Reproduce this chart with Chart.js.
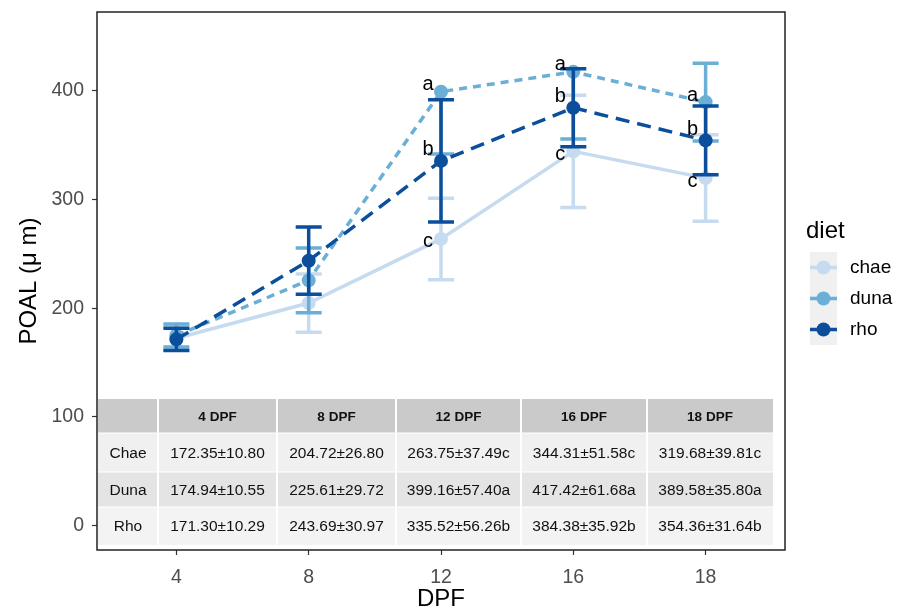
<!DOCTYPE html>
<html>
<head>
<meta charset="utf-8">
<script src="https://cdn.jsdelivr.net/npm/chart.js@4.4.0/dist/chart.umd.min.js"></script>
<style>
  html, body { margin: 0; padding: 0; background: #fff; }
  canvas { display: block; }
</style>
</head>
<body>
<canvas id="chart" width="898" height="613"></canvas>
<script>
// Data (means, SD and letters also shown in the inset table)
const days = ['4', '8', '12', '16', '18'];
const diets = ['chae', 'duna', 'rho'];
const rowNames = ['Chae', 'Duna', 'Rho'];

const chaeMean = [172.35, 204.72, 263.75, 344.31, 319.68];
const chaeSd = [10.80, 26.80, 37.49, 51.58, 39.81];
const dunaMean = [174.94, 225.61, 399.16, 417.42, 389.58];
const dunaSd = [10.55, 29.72, 57.40, 61.68, 35.80];
const rhoMean = [171.30, 243.69, 335.52, 384.38, 354.36];
const rhoSd = [10.29, 30.97, 56.26, 35.92, 31.64];

const chaeLetters = ['', '', 'c', 'c', 'c'];
const dunaLetters = ['', '', 'a', 'a', 'a'];
const rhoLetters = ['', '', 'b', 'b', 'b'];

const yTicks = [0, 100, 200, 300, 400];
const yLimit = 450; // error bar halves above this are dropped, as in the figure

Chart.defaults.font.family = '"Liberation Sans", Arial, sans-serif';

const series = [
    { mean: chaeMean, sd: chaeSd, letters: chaeLetters, color: '#c6dbef', dash: [], nudge: 3 },
    { mean: dunaMean, sd: dunaSd, letters: dunaLetters, color: '#6baed6', dash: [8, 6], nudge: -7 },
    { mean: rhoMean, sd: rhoSd, letters: rhoLetters, color: '#0b4f9c', dash: [14, 8], nudge: -11 }
];

const datasets = series.map((s, k) => ({
    label: diets[k],
    data: s.mean.map((v, i) => ({ x: i, y: v })),
    borderColor: s.color,
    backgroundColor: s.color,
    pointBackgroundColor: s.color,
    pointBorderWidth: 0,
    pointRadius: 7,
    borderWidth: 3.5,
    borderDash: s.dash,
    tension: 0,
    order: 3 - k,   // chae drawn first, rho last (on top)
    sd: s.sd,
    letters: s.letters,
    nudge: s.nudge
}));

const overlay = {
    id: 'overlay',
    // error bars for each group, drawn just before that group's line and points
    beforeDatasetDraw(chart, args) {
        const ds = chart.data.datasets[args.index];
        const ctx = chart.ctx;
        const xs = chart.scales.x, ys = chart.scales.y;
        ctx.save();
        ctx.strokeStyle = ds.borderColor;
        ctx.lineWidth = 3.5;
        ctx.setLineDash([]);
        ds.data.forEach((p, i) => {
            const px = xs.getPixelForValue(p.x);
            const lo = p.y - ds.sd[i];
            const hi = p.y + ds.sd[i];
            const yLo = ys.getPixelForValue(lo);
            const yHi = ys.getPixelForValue(hi > yLimit ? p.y : hi);
            ctx.beginPath();
            ctx.moveTo(px, yLo);
            ctx.lineTo(px, yHi);
            ctx.moveTo(px - 13, yLo);
            ctx.lineTo(px + 13, yLo);
            if (hi <= yLimit) {
                ctx.moveTo(px - 13, yHi);
                ctx.lineTo(px + 13, yHi);
            }
            ctx.stroke();
        });
        ctx.restore();
    },
    afterDatasetsDraw(chart) {
        const ctx = chart.ctx;
        const xs = chart.scales.x, ys = chart.scales.y;
        ctx.save();

        // significance letters
        ctx.fillStyle = '#000';
        ctx.font = '20px "Liberation Sans", Arial, sans-serif';
        ctx.textAlign = 'center';
        ctx.textBaseline = 'middle';
        chart.data.datasets.forEach(ds => {
            ds.data.forEach((p, i) => {
                if (!ds.letters[i]) return;
                ctx.fillText(ds.letters[i], xs.getPixelForValue(p.x) - 13, ys.getPixelForValue(p.y) + ds.nudge);
            });
        });

        // inset table
        const cols = [98, 158, 277, 396, 521, 647, 773];
        const rows = [399, 433, 472, 507, 545];
        const fills = ['#cacaca', '#f0f0f0', '#e4e4e4', '#f3f3f3'];
        for (let r = 0; r < 4; r++) {
            ctx.fillStyle = fills[r];
            ctx.fillRect(cols[0], rows[r], cols[6] - cols[0], rows[r + 1] - rows[r]);
        }
        ctx.strokeStyle = '#ffffff';
        ctx.lineWidth = 2;
        ctx.beginPath();
        for (let c = 1; c < 6; c++) {
            ctx.moveTo(cols[c], rows[0]);
            ctx.lineTo(cols[c], rows[4]);
        }
        ctx.stroke();
        ctx.lineWidth = 1.2;
        ctx.beginPath();
        for (let r = 1; r < 4; r++) {
            ctx.moveTo(cols[0], rows[r]);
            ctx.lineTo(cols[6], rows[r]);
        }
        ctx.stroke();

        ctx.fillStyle = '#111';
        ctx.font = 'bold 13.5px "Liberation Sans", Arial, sans-serif';
        days.forEach((d, i) => {
            ctx.fillText(d + ' DPF', (cols[i + 1] + cols[i + 2]) / 2, (rows[0] + rows[1]) / 2 + 1);
        });
        ctx.font = '15.5px "Liberation Sans", Arial, sans-serif';
        series.forEach((s, k) => {
            const cy = (rows[k + 1] + rows[k + 2]) / 2 + 1;
            ctx.fillText(rowNames[k], (cols[0] + cols[1]) / 2, cy);
            s.mean.forEach((m, i) => {
                const txt = m.toFixed(2) + '\u00b1' + s.sd[i].toFixed(2) + s.letters[i];
                ctx.fillText(txt, (cols[i + 1] + cols[i + 2]) / 2, cy);
            });
        });
        ctx.restore();
    },
    afterDraw(chart) {
        const ctx = chart.ctx;
        const a = chart.chartArea;
        ctx.save();
        // panel border
        ctx.strokeStyle = '#222';
        ctx.lineWidth = 1.5;
        ctx.strokeRect(a.left, a.top, a.right - a.left, a.bottom - a.top);

        // legend
        ctx.fillStyle = '#000';
        ctx.font = '24px "Liberation Sans", Arial, sans-serif';
        ctx.textAlign = 'left';
        ctx.textBaseline = 'middle';
        ctx.fillText('diet', 806, 231);
        series.forEach((s, k) => {
            const top = 252 + k * 31;
            const cy = top + 15.5;
            ctx.fillStyle = '#f0f0f0';
            ctx.fillRect(810, top, 27, 31);
            ctx.strokeStyle = s.color;
            ctx.lineWidth = 3.5;
            ctx.beginPath();
            ctx.moveTo(810, cy);
            ctx.lineTo(837, cy);
            ctx.stroke();
            ctx.fillStyle = s.color;
            ctx.beginPath();
            ctx.arc(823.5, cy, 7, 0, Math.PI * 2);
            ctx.fill();
            ctx.fillStyle = '#000';
            ctx.font = '19px "Liberation Sans", Arial, sans-serif';
            ctx.fillText(diets[k], 850, cy);
        });
        ctx.restore();
    }
};

new Chart(document.getElementById('chart').getContext('2d'), {
    type: 'line',
    data: { datasets },
    plugins: [overlay],
    options: {
        responsive: false,
        animation: false,
        events: [],
        layout: { padding: { left: 0, right: 113, top: 12, bottom: 0 } },
        scales: {
            x: {
                type: 'linear',
                min: -0.6,
                max: 4.6,
                afterBuildTicks: scale => { scale.ticks = days.map((d, i) => ({ value: i })); },
                afterFit: scale => {
                    scale.height = 63;
                    scale.paddingLeft = 0;
                    scale.paddingRight = 0;
                },
                grid: { display: true, drawOnChartArea: false, drawTicks: true, tickLength: 5, tickColor: '#333', tickWidth: 1.2 },
                border: { display: false },
                ticks: {
                    callback: v => days[Math.round(v)],
                    color: '#4d4d4d',
                    font: { size: 19.5 },
                    padding: 11,
                    maxRotation: 0
                },
                title: {
                    display: true,
                    text: 'DPF',
                    color: '#000',
                    font: { size: 24 },
                    padding: { top: 0, bottom: -1 }
                }
            },
            y: {
                min: -22.5,
                max: 472.5,
                afterBuildTicks: scale => { scale.ticks = yTicks.map(v => ({ value: v })); },
                afterFit: scale => {
                    scale.width = 97;
                    scale.paddingTop = 0;
                    scale.paddingBottom = 0;
                },
                grid: { display: true, drawOnChartArea: false, drawTicks: true, tickLength: 5, tickColor: '#333', tickWidth: 1.2 },
                border: { display: false },
                ticks: {
                    color: '#4d4d4d',
                    font: { size: 19.5 },
                    padding: 8
                },
                title: {
                    display: true,
                    text: 'POAL (\u03bc m)',
                    color: '#000',
                    font: { size: 24 },
                    padding: { top: 15, bottom: 0 }
                }
            }
        },
        plugins: {
            legend: { display: false },
            tooltip: { enabled: false }
        }
    }
});
</script>
</body>
</html>
